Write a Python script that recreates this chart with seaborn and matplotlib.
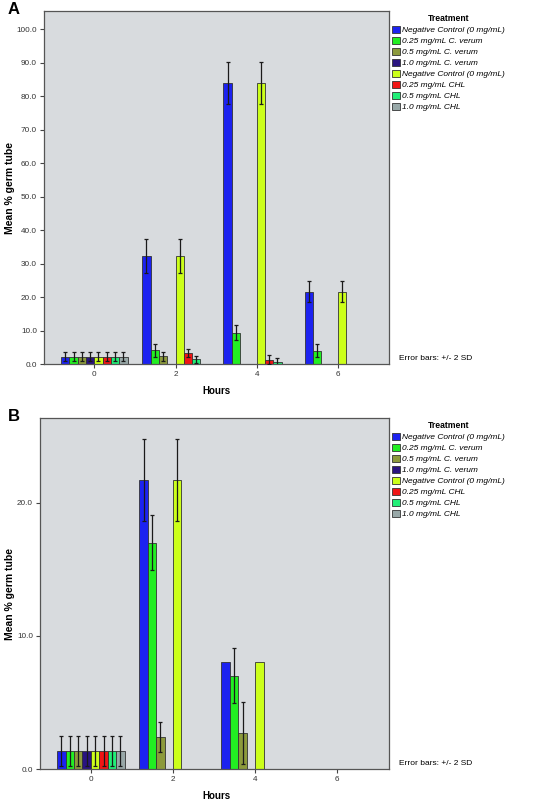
import numpy as np
import pandas as pd
import seaborn as sns
import matplotlib.pyplot as plt

plt.rcParams['font.family'] = ['Liberation Sans', 'DejaVu Sans']

hours = ["0", "2", "4", "6"]
treatments = ["Negative Control (0 mg/mL)", "0.25 mg/mL C. verum", "0.5 mg/mL C. verum",
              "1.0 mg/mL C. verum", "Negative Control (0 mg/mL)", "0.25 mg/mL CHL",
              "0.5 mg/mL CHL", "1.0 mg/mL CHL"]
colors = ["#1c22f0", "#22ee22", "#8c9a3c", "#2a1480", "#ccff1a", "#f01515", "#22ee77", "#98a8a8"]

# panel A : mean % germ tube per treatment (rows) at hours 0,2,4,6
a_means = [[2.2, 32.3, 83.8, 21.6],
           [2.2, 4.1, 9.4, 4.0],
           [2.2, 2.3, 0, 0],
           [2.2, 0, 0, 0],
           [2.2, 32.3, 83.8, 21.6],
           [2.2, 3.3, 1.3, 0],
           [2.2, 1.4, 0.6, 0],
           [2.2, 0, 0, 0]]
a_errs = [[1.3, 5.1, 6.3, 3.2],
          [1.3, 2.0, 2.3, 2.0],
          [1.3, 1.3, 0, 0],
          [1.3, 0, 0, 0],
          [1.3, 5.1, 6.3, 3.2],
          [1.3, 1.2, 1.3, 0],
          [1.3, 1.1, 1.1, 0],
          [1.3, 0, 0, 0]]

# panel B
b_means = [[1.35, 21.7, 8.0, 0],
           [1.35, 17.0, 7.0, 0],
           [1.35, 2.4, 2.7, 0],
           [1.35, 0, 0, 0],
           [1.35, 21.7, 8.0, 0],
           [1.35, 0, 0, 0],
           [1.35, 0, 0, 0],
           [1.35, 0, 0, 0]]
b_errs = [[1.15, 3.05, 0, 0],
          [1.15, 2.05, 2.05, 0],
          [1.15, 1.15, 2.35, 0],
          [1.15, 0, 0, 0],
          [1.15, 3.05, 0, 0],
          [1.15, 0, 0, 0],
          [1.15, 0, 0, 0],
          [1.15, 0, 0, 0]]

W, H = 534, 805
fig = plt.figure(figsize=(W / 100, H / 100), dpi=100)


def fx(px):
    return px / W


def fy(py):
    return 1 - py / H


def draw_panel(rect, means, errs, ymax, yticks, letter, top_px, bottom_px):
    ax = fig.add_axes(rect)
    keys = ["t%d" % i for i in range(len(treatments))]
    rows = []
    for i, k in enumerate(keys):
        for j, h in enumerate(hours):
            rows.append({"hour": h, "treatment": k, "mean": means[i][j]})
    df = pd.DataFrame(rows)
    sns.barplot(data=df, x="hour", y="mean", hue="treatment", order=hours, hue_order=keys,
                palette=colors, width=0.82, gap=0, errorbar=None, saturation=1,
                edgecolor="#333333", linewidth=0.6, legend=False, ax=ax)
    bars = list(ax.containers)
    for i, cont in enumerate(bars):
        for bar in cont:
            xc = bar.get_x() + bar.get_width() / 2
            j = int(round(xc))
            e = errs[i][j]
            if e > 0 and bar.get_height() > 0:
                ax.errorbar(xc, bar.get_height(), yerr=e, fmt="none", ecolor="#1a1a1a",
                            elinewidth=0.9, capsize=1.3, capthick=0.9, zorder=4)
    ax.set_facecolor("#d8dbde")
    ax.set_xlim(-0.62, 3.63)
    ax.set_ylim(0, ymax)
    ax.set_yticks(yticks)
    ax.set_yticklabels(["%.1f" % t for t in yticks])
    for s in ax.spines.values():
        s.set_color("#555555")
        s.set_linewidth(0.9)
    ax.tick_params(axis="both", direction="out", length=3, width=0.8, color="#444444",
                   labelsize=5.9, labelcolor="#333333", pad=2)
    ax.set_ylabel("Mean % germ tube", fontsize=7.5, fontweight="bold")
    ax.yaxis.set_label_coords(fx(15), fy((top_px + bottom_px) / 2), transform=fig.transFigure)
    ax.set_xlabel("Hours", fontsize=7, fontweight="bold")
    ax.xaxis.set_label_coords(fx(216), fy(bottom_px + 22), transform=fig.transFigure)
    leg = ax.legend(bars, treatments, title="Treatment", loc="upper left",
                    bbox_to_anchor=(fx(392), fy(top_px + 3)), bbox_transform=fig.transFigure,
                    frameon=False, fontsize=6, title_fontsize=6.2, handlelength=0.9,
                    handleheight=0.9, handletextpad=0.3, labelspacing=0.32, borderaxespad=0,
                    borderpad=0)
    leg.get_title().set_fontweight("bold")
    for t in leg.get_texts():
        t.set_fontstyle("italic")
    fig.text(fx(399), fy(bottom_px - 6), "Error bars: +/- 2 SD", fontsize=6, va="center")
    fig.text(fx(8), fy(top_px - 2), letter, fontsize=12, fontweight="bold", va="center")
    return ax


draw_panel([fx(44), fy(364), fx(389) - fx(44), fy(11) - fy(364)], a_means, a_errs, 105.4,
           np.arange(0, 101, 10), "A", 11, 364)
draw_panel([fx(40), fy(769), fx(389) - fx(40), fy(418) - fy(769)], b_means, b_errs, 26.35,
           [0, 10, 20], "B", 418, 769)

fig.savefig("out.png", dpi=100)
